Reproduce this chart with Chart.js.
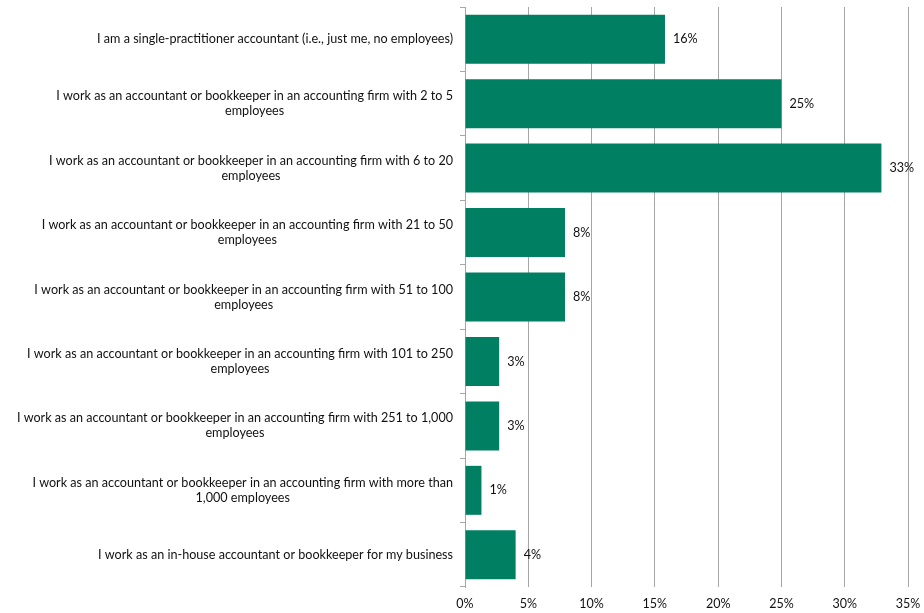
<!DOCTYPE html>
<html>
<head>
<meta charset="utf-8">
<script src="https://cdn.jsdelivr.net/npm/chart.js@4/dist/chart.umd.min.js"></script>
<style>
  html, body { margin: 0; padding: 0; background: #fff; }
  #wrap { width: 924px; height: 613px; position: relative; }
</style>
</head>
<body>
<div id="wrap"><canvas id="chart"></canvas></div>
<script>
// Survey answers, one entry per bar (lines wrap as in the report)
const categories = [
    ['I am a single-practitioner accountant (i.e., just me, no employees)'],
    ['I work as an accountant or bookkeeper in an accounting firm with 2 to 5', 'employees'],
    ['I work as an accountant or bookkeeper in an accounting firm with 6 to 20', 'employees'],
    ['I work as an accountant or bookkeeper in an accounting firm with 21 to 50', 'employees'],
    ['I work as an accountant or bookkeeper in an accounting firm with 51 to 100', 'employees'],
    ['I work as an accountant or bookkeeper in an accounting firm with 101 to 250', 'employees'],
    ['I work as an accountant or bookkeeper in an accounting firm with 251 to 1,000', 'employees'],
    ['I work as an accountant or bookkeeper in an accounting firm with more than', '1,000 employees'],
    ['I work as an in-house accountant or bookkeeper for my business']
];

// Share of respondents (%)
const shares = [15.8, 25.0, 32.9, 7.9, 7.9, 2.7, 2.7, 1.3, 4.0];

// X axis ticks
const xTicks = [0, 5, 10, 15, 20, 25, 30, 35];

const barColor = '#007F62';
const gridColor = '#A6A6A6';
const textColor = '#111';
const fontFamily = 'Lato, "Open Sans", sans-serif';

// Draws the wrapped category labels (each line centred within its block)
// and the value labels at the end of each bar
const labelPlugin = {
    id: 'labelPlugin',
    afterDraw(chart) {
        const ctx = chart.ctx;
        const yScale = chart.scales.y;
        const meta = chart.getDatasetMeta(0);
        const lineH = 15;
        ctx.save();
        ctx.font = '12.6px ' + fontFamily;
        ctx.fillStyle = textColor;
        ctx.textBaseline = 'middle';

        categories.forEach((lines, i) => {
            const cy = yScale.getPixelForValue(i);
            const right = yScale.right - 12;
            const widths = lines.map(l => ctx.measureText(l).width);
            const blockW = Math.max(...widths);
            const center = right - blockW / 2;
            ctx.textAlign = 'center';
            lines.forEach((line, k) => {
                const y = cy + (k - (lines.length - 1) / 2) * lineH;
                ctx.fillText(line, center, y);
            });
        });

        ctx.textAlign = 'left';
        meta.data.forEach((bar, i) => {
            ctx.fillText(Math.round(shares[i]) + '%', bar.x + 8, bar.y);
        });
        ctx.restore();
    }
};

new Chart(document.getElementById('chart'), {
    type: 'bar',
    data: {
        labels: categories,
        datasets: [{
            data: shares,
            backgroundColor: barColor,
            borderWidth: 0,
            barPercentage: 0.76,
            categoryPercentage: 1.0
        }]
    },
    options: {
        indexAxis: 'y',
        responsive: true,
        maintainAspectRatio: false,
        animation: false,
        layout: { padding: { top: 7, right: 16, left: 0, bottom: 0 } },
        plugins: {
            legend: { display: false },
            tooltip: { enabled: false }
        },
        scales: {
            x: {
                min: 0,
                max: 35,
                afterBuildTicks: scale => {
                    scale.ticks = xTicks.map(v => ({ value: v }));
                },
                afterFit: scale => {
                    scale.height = 26;
                    scale.paddingLeft = 0;
                    scale.paddingRight = 0;
                },
                grid: { color: gridColor, lineWidth: 1, drawTicks: false },
                border: { display: false },
                ticks: {
                    padding: 9,
                    color: textColor,
                    font: { family: fontFamily, size: 12.5 },
                    callback: v => v + '%'
                }
            },
            y: {
                afterFit: scale => { scale.width = 465; },
                grid: {
                    offset: true,
                    drawOnChartArea: false,
                    color: gridColor,
                    tickLength: 5
                },
                border: { display: true, color: gridColor },
                ticks: { display: false }
            }
        }
    },
    plugins: [labelPlugin]
});
</script>
</body>
</html>
